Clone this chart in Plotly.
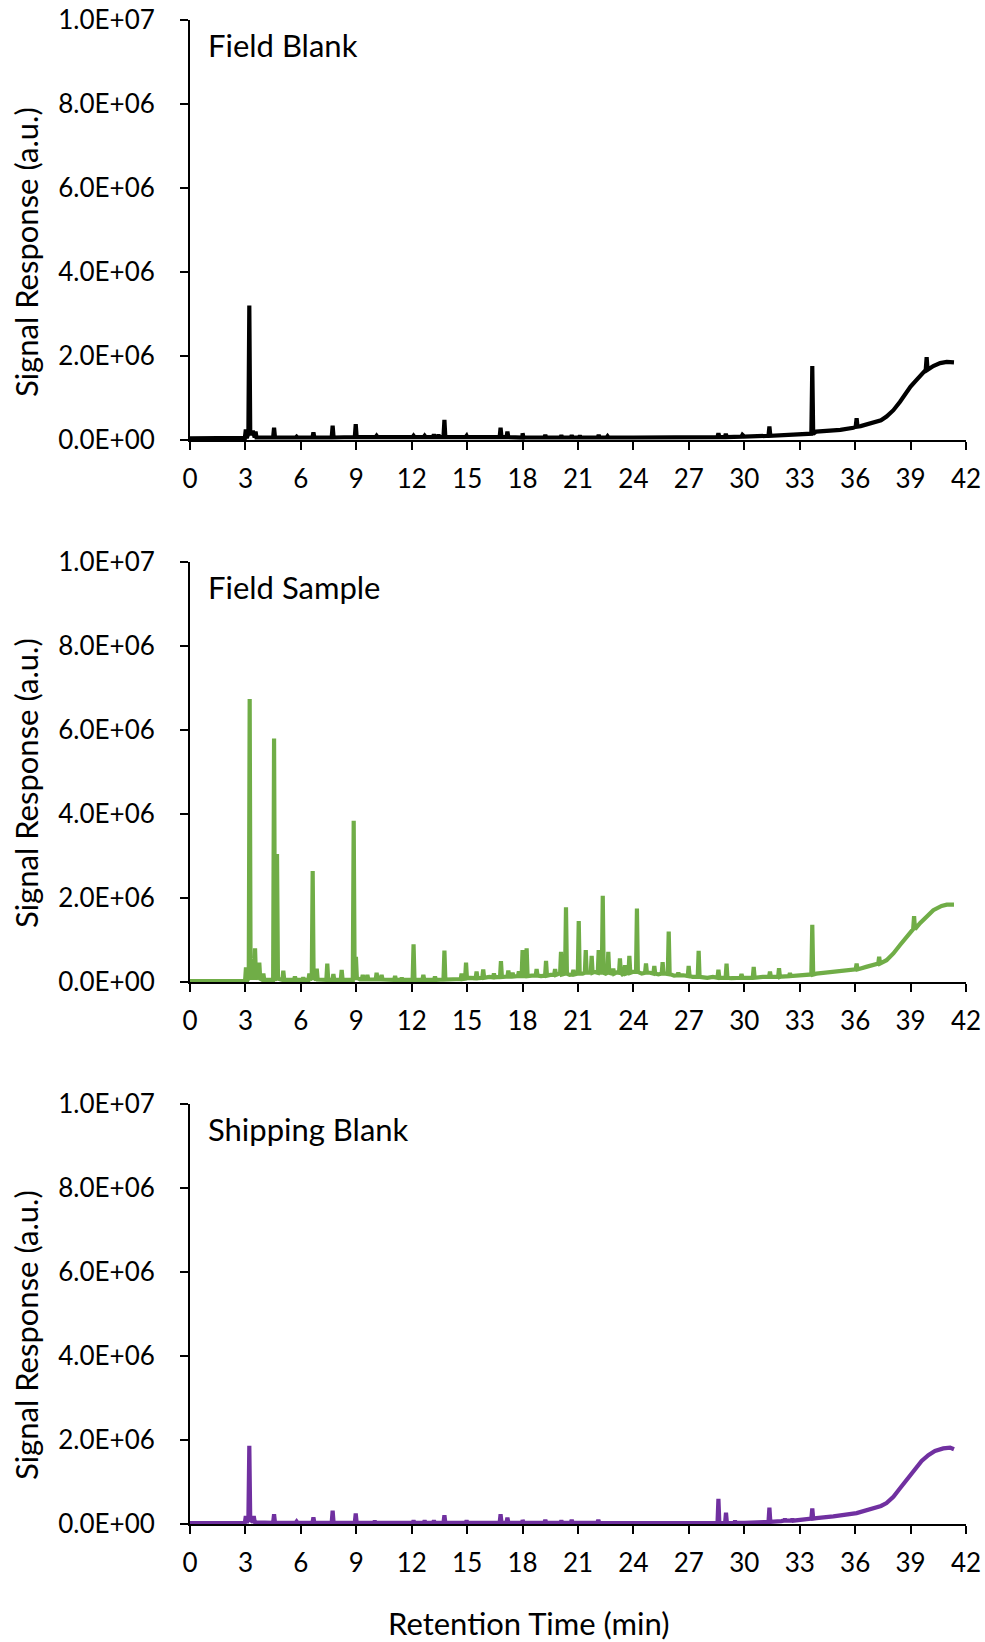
import plotly.graph_objects as go

# ---- shared axis values ----
x_ticks = [0, 3, 6, 9, 12, 15, 18, 21, 24, 27, 30, 33, 36, 39, 42]
y_ticks = [0, 2e6, 4e6, 6e6, 8e6, 1e7]
y_tick_text = ["0.0E+00", "2.0E+06", "4.0E+06", "6.0E+06", "8.0E+06", "1.0E+07"]

# ---- Field Blank (signal in units of 1e6) ----
fb_base_rt = [0, 2.5, 3.7, 6, 9, 12, 15, 18, 21, 24, 27, 30, 31.8, 33.2, 33.9, 34.5, 35.2,
              35.9, 36.3, 37.0, 37.4, 37.7, 38.07, 38.43, 38.79, 39.0, 39.24, 39.6, 40.23, 40.6,
              40.96, 41.35]
fb_base_val = [0.04, 0.04, 0.06, 0.06, 0.07, 0.07, 0.07, 0.06, 0.06, 0.06, 0.06, 0.08, 0.11, 0.14,
               0.2, 0.21, 0.24, 0.29, 0.33, 0.41, 0.47, 0.56, 0.71, 0.91, 1.15, 1.27, 1.39, 1.55,
               1.76, 1.83, 1.86, 1.85]
fb_peak_rt = [3.02, 3.21, 3.4, 3.55, 4.55, 5.77, 6.68, 7.72, 8.97, 10.1, 12.1, 12.7, 13.2, 13.45,
              13.77, 14.97, 16.81, 17.18, 18.0, 19.23, 20.1, 20.66, 21.1, 22.12, 22.6, 24.9, 28.6,
              29.0, 29.9, 31.36, 33.68, 36.08, 39.87]
fb_peak_top = [0.25, 3.2, 0.22, 0.2, 0.29, 0.08, 0.18, 0.34, 0.38, 0.1, 0.1, 0.1, 0.13, 0.12,
               0.48, 0.1, 0.29, 0.2, 0.16, 0.12, 0.11, 0.11, 0.1, 0.12, 0.09, 0.08, 0.16, 0.15,
               0.12, 0.32, 1.76, 0.52, 1.97]
fb_peak_foot = [0.05, 0.15, 0.15, 0.06, 0.06, 0.06, 0.06, 0.06, 0.07, 0.07, 0.07, 0.07, 0.07, 0.07,
                0.07, 0.07, 0.07, 0.07, 0.06, 0.06, 0.06, 0.06, 0.06, 0.06, 0.06, 0.06, 0.07, 0.07,
                0.08, 0.1, 0.15, 0.32, 1.67]

# ---- Field Sample ----
fs_base_rt = [0, 2.9, 3.65, 5.3, 9.2, 12, 15, 16.2, 17.0, 18.5, 19.0, 19.5, 20.0, 20.55, 21.25,
              21.9, 22.5, 23.1, 23.4, 23.95, 24.45, 24.9, 25.35, 25.75, 26.2, 26.7, 27.2, 28.0,
              28.3, 29.3, 30.0, 31.0, 32.0, 33.0, 33.9, 34.46, 35.18, 35.9, 36.6, 37.1, 37.7,
              38.07, 38.43, 38.79, 39.05, 39.51, 39.87, 40.23, 40.68, 40.96, 41.35]
fs_base_val = [0.02, 0.02, 0.1, 0.05, 0.06, 0.05, 0.1, 0.12, 0.13, 0.15, 0.14, 0.17, 0.2, 0.17,
               0.2, 0.24, 0.2, 0.23, 0.18, 0.24, 0.2, 0.22, 0.18, 0.2, 0.15, 0.16, 0.12, 0.1,
               0.12, 0.09, 0.1, 0.12, 0.13, 0.15, 0.2, 0.22, 0.25, 0.29, 0.36, 0.42, 0.52, 0.68,
               0.88, 1.06, 1.2, 1.4, 1.55, 1.71, 1.81, 1.84, 1.84]
fs_peak_rt = [3.03, 3.23, 3.52, 3.75, 3.97, 4.55, 4.71, 5.05, 5.68, 6.13, 6.46, 6.64, 6.86, 7.43,
              7.76, 8.21, 8.86, 8.98, 9.35, 9.6, 10.1, 10.37, 11.1, 11.46, 12.1, 12.63, 13.26,
              13.77, 14.7, 14.94, 15.51, 15.87, 16.45, 16.83, 17.23, 17.46, 17.8, 18.0, 18.22,
              18.76, 19.27, 19.76, 20.08, 20.35, 20.75, 21.04, 21.42, 21.74, 22.12, 22.34, 22.64,
              22.91, 23.27, 23.54, 23.78, 24.19, 24.68, 25.13, 25.58, 25.91, 26.43, 26.99, 27.53,
              28.6, 29.04, 29.85, 30.51, 31.39, 31.88, 32.47, 33.68, 36.08, 37.3, 39.19]
fs_peak_top = [0.35, 6.74, 0.8, 0.46, 0.2, 5.8, 3.05, 0.27, 0.13, 0.11, 0.2, 2.64, 0.32, 0.44,
               0.19, 0.29, 3.84, 0.6, 0.17, 0.17, 0.22, 0.17, 0.14, 0.1, 0.9, 0.17, 0.13, 0.75,
               0.2, 0.46, 0.25, 0.3, 0.2, 0.5, 0.27, 0.22, 0.25, 0.76, 0.8, 0.31, 0.5, 0.31, 0.72,
               1.78, 0.29, 1.45, 0.76, 0.62, 0.76, 2.05, 0.72, 0.32, 0.56, 0.4, 0.62, 1.75, 0.44,
               0.38, 0.47, 1.2, 0.22, 0.38, 0.74, 0.29, 0.44, 0.19, 0.36, 0.25, 0.33, 0.21, 1.36,
               0.44, 0.6, 1.57]
fs_peak_foot = [0.02, 0.1, 0.1, 0.08, 0.05, 0.05, 0.08, 0.05, 0.05, 0.05, 0.05, 0.1, 0.06, 0.05,
                0.05, 0.05, 0.05, 0.1, 0.06, 0.06, 0.06, 0.06, 0.05, 0.05, 0.05, 0.05, 0.05, 0.06,
                0.07, 0.08, 0.09, 0.1, 0.11, 0.12, 0.13, 0.13, 0.14, 0.14, 0.14, 0.15, 0.15, 0.17,
                0.18, 0.2, 0.18, 0.2, 0.22, 0.22, 0.22, 0.22, 0.22, 0.2, 0.22, 0.2, 0.22, 0.24,
                0.22, 0.2, 0.2, 0.19, 0.16, 0.14, 0.12, 0.1, 0.1, 0.1, 0.1, 0.12, 0.12, 0.14, 0.18,
                0.3, 0.44, 1.26]

# ---- Shipping Blank ----
sb_base_rt = [0, 2.9, 3.6, 6, 12, 18, 24, 28, 30, 31.2, 32, 33, 33.9, 34.82, 36.08, 37.0, 37.4,
              37.7, 38.07, 38.43, 38.79, 39.24, 39.6, 39.96, 40.32, 40.77, 41.14, 41.35]
sb_base_val = [0.02, 0.02, 0.04, 0.03, 0.03, 0.03, 0.02, 0.02, 0.03, 0.05, 0.07, 0.1, 0.14, 0.18,
               0.26, 0.37, 0.43, 0.5, 0.65, 0.85, 1.05, 1.3, 1.5, 1.64, 1.74, 1.8, 1.82, 1.78]
sb_peak_rt = [3.02, 3.21, 3.45, 4.55, 5.77, 6.68, 7.72, 8.97, 10.0, 12.1, 12.7, 13.2, 13.77,
              14.97, 16.81, 17.18, 18.0, 19.23, 20.1, 20.66, 22.1, 28.6, 29.01, 29.5, 31.36,
              32.2, 32.6, 33.68]
sb_peak_top = [0.19, 1.86, 0.19, 0.23, 0.06, 0.16, 0.32, 0.25, 0.07, 0.08, 0.08, 0.08, 0.21,
               0.08, 0.23, 0.15, 0.1, 0.1, 0.08, 0.1, 0.1, 0.6, 0.27, 0.07, 0.39, 0.12, 0.12, 0.37]
sb_peak_foot = [0.03, 0.1, 0.05, 0.03, 0.03, 0.03, 0.03, 0.03, 0.03, 0.03, 0.03, 0.03, 0.03,
                0.03, 0.03, 0.03, 0.03, 0.03, 0.03, 0.03, 0.03, 0.02, 0.02, 0.03, 0.05, 0.08,
                0.08, 0.13]

PEAK_HALF_WIDTH = 0.05  # min
SCALE = 1e6


def chromatogram(base_rt, base_val, peak_rt, peak_top, peak_foot):
    """Merge baseline points and peak vertices into one time-ordered trace."""
    pts = list(zip(base_rt, base_val))
    for t, top, foot in zip(peak_rt, peak_top, peak_foot):
        pts += [(t - PEAK_HALF_WIDTH, foot), (t, top), (t + PEAK_HALF_WIDTH, foot)]
    pts.sort(key=lambda p: p[0])
    return [p[0] for p in pts], [p[1] * SCALE for p in pts]


W, H = 985, 1642
X0, X1 = 190, 966
panels = [
    ("Field Blank", "#000000", (fb_base_rt, fb_base_val, fb_peak_rt, fb_peak_top, fb_peak_foot), 20, 440, 252),
    ("Field Sample", "#70AD47", (fs_base_rt, fs_base_val, fs_peak_rt, fs_peak_top, fs_peak_foot), 562, 982, 783),
    ("Shipping Blank", "#7030A0", (sb_base_rt, sb_base_val, sb_peak_rt, sb_peak_top, sb_peak_foot), 1104, 1524, 1335),
]

FONT = "Lato"
TITLE_SIZE = 31
fig = go.Figure()
annotations = []
for i, (name, color, series, top_px, bot_px, ytitle_px) in enumerate(panels):
    idx = "" if i == 0 else str(i + 1)
    xs, ys = chromatogram(*series)
    fig.add_trace(go.Scatter(x=xs, y=ys, mode="lines", name=name,
                             line=dict(color=color, width=4.2),
                             xaxis="x" + idx, yaxis="y" + idx, showlegend=False))
    common = dict(showline=True, linecolor="black", linewidth=2, ticks="outside", ticklen=8,
                  tickwidth=2, tickcolor="black", showgrid=False, zeroline=False,
                  automargin=False, tickfont=dict(family=FONT, size=26, color="black"))
    fig.update_layout(**{
        "xaxis" + idx: dict(domain=[X0 / W, X1 / W], range=[0, 42], tickvals=x_ticks,
                            anchor="y" + idx, ticklabelstandoff=7, **common),
        "yaxis" + idx: dict(domain=[1 - bot_px / H, 1 - top_px / H], range=[0, 1e7],
                            tickvals=y_ticks, ticktext=y_tick_text, anchor="x" + idx,
                            ticklabelstandoff=20, **common),
    })
    annotations.append(dict(text=name, xref="paper", yref="paper", x=206 / W,
                            y=1 - (top_px + 25) / H, xanchor="left", yanchor="middle",
                            showarrow=False, font=dict(family=FONT, size=TITLE_SIZE, color="black")))
    annotations.append(dict(text="Signal Response (a.u.)", xref="paper", yref="paper",
                            x=26 / W, y=1 - ytitle_px / H, xanchor="center", yanchor="middle",
                            textangle=-90, showarrow=False,
                            font=dict(family=FONT, size=TITLE_SIZE, color="black")))

annotations.append(dict(text="Retention Time (min)", xref="paper", yref="paper",
                        x=529 / W, y=1 - 1623 / H, xanchor="center", yanchor="middle",
                        showarrow=False, font=dict(family=FONT, size=TITLE_SIZE, color="black")))

fig.update_layout(width=W, height=H, margin=dict(l=0, r=0, t=0, b=0),
                  paper_bgcolor="white", plot_bgcolor="white", annotations=annotations)
fig.write_html("out.html")
